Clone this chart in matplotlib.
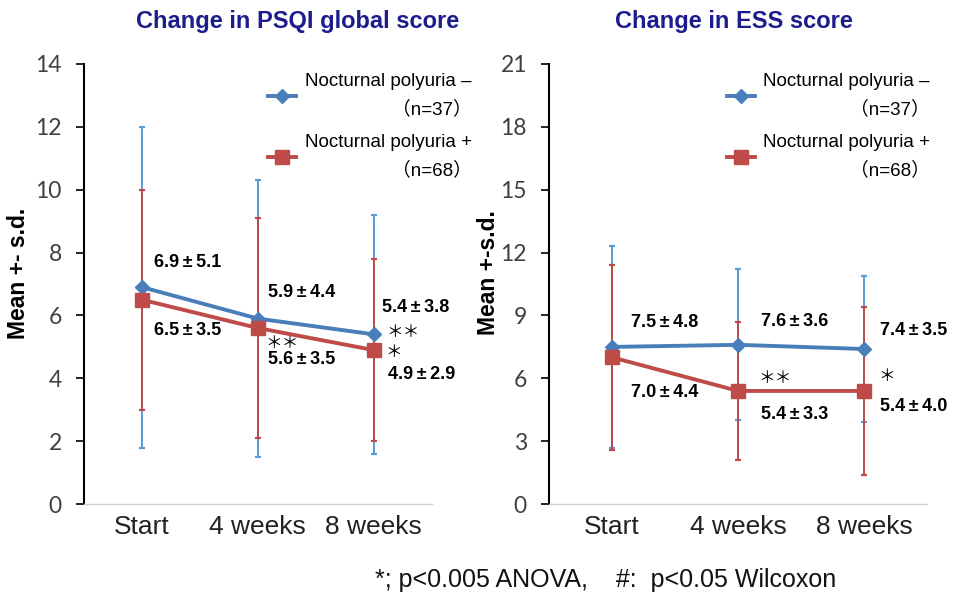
import numpy as np
import matplotlib.pyplot as plt

plt.rcParams['font.family'] = ['Liberation Sans', 'Noto Sans CJK JP', 'DejaVu Sans']

categories = ["Start", "4 weeks", "8 weeks"]
series_labels = ["Nocturnal polyuria –\n（n=37）", "Nocturnal polyuria +\n（n=68）"]

# PSQI global score
psqi_neg_mean = [6.9, 5.9, 5.4]
psqi_neg_sd = [5.1, 4.4, 3.8]
psqi_pos_mean = [6.5, 5.6, 4.9]
psqi_pos_sd = [3.5, 3.5, 2.9]
psqi_neg_sig = ["", "", "＊＊"]
psqi_pos_sig = ["", "＊＊", "＊"]

# ESS score
ess_neg_mean = [7.5, 7.6, 7.4]
ess_neg_sd = [4.8, 3.6, 3.5]
ess_pos_mean = [7.0, 5.4, 5.4]
ess_pos_sd = [4.4, 3.3, 4.0]
ess_neg_sig = ["", "", ""]
ess_pos_sig = ["", "＊＊", "＊"]

blue = "#4a7ebb"
blue_err = "#5b9bd5"
red = "#be4b48"
navy = "#1c1c8c"

fig = plt.figure(figsize=(9.55, 5.96), dpi=100)
ax1 = fig.add_axes([0.088, 0.154, 0.364, 0.739])
ax2 = fig.add_axes([0.575, 0.154, 0.396, 0.739])


def draw_panel(ax, neg_m, neg_s, pos_m, pos_s, neg_sig, pos_sig, ymax, ystep,
               title, ylabel, title_x, ylabel_x, offs, leg_x):
    x = np.arange(len(categories))
    ax.errorbar(x, neg_m, yerr=neg_s, fmt="none", ecolor=blue_err, elinewidth=1.4,
                capsize=2, capthick=1.6, zorder=2)
    ax.errorbar(x, pos_m, yerr=pos_s, fmt="none", ecolor=red, elinewidth=1.4,
                capsize=2, capthick=1.6, zorder=2.5)
    ax.plot(x, neg_m, color=blue, lw=2.8, marker="D", ms=7.5, label=series_labels[0], zorder=3)
    ax.plot(x, pos_m, color=red, lw=2.8, marker="s", ms=10.5, label=series_labels[1], zorder=4)

    ax.set_xlim(-0.5, 2.5)
    ax.set_ylim(0, ymax)
    ax.set_yticks(np.arange(0, ymax + 1, ystep))
    ax.set_xticks(x)
    ax.set_xticklabels(categories, fontsize=19, color="#222222")
    ax.tick_params(axis="x", length=0, pad=8)
    ax.tick_params(axis="y", length=6, width=1.2, direction="out", pad=10, labelsize=16.5,
                   labelcolor="#404040")
    for t in ax.get_yticklabels():
        t.set_fontfamily("Lato")
    for s in ["top", "right"]:
        ax.spines[s].set_visible(False)
    ax.spines["left"].set_linewidth(1.5)
    ax.spines["bottom"].set_color("#d0d0d0")
    ax.spines["bottom"].set_linewidth(1.0)

    ax.text(title_x, 1.095, title, transform=ax.transAxes, ha="center", va="center",
            fontsize=17, fontweight="bold", color=navy)
    ax.set_ylabel(ylabel, fontsize=16.5, fontweight="bold")
    ax.yaxis.set_label_coords(ylabel_x, 0.525)

    # value labels and significance marks
    for i in range(len(categories)):
        ax.annotate(f"{neg_m[i]:.1f}\u2009±\u2009{neg_s[i]:.1f}", (x[i], neg_m[i]),
                    xytext=offs["neg"][i], textcoords="offset pixels", ha="left",
                    va="center", fontsize=13, fontweight="bold")
        ax.annotate(f"{pos_m[i]:.1f}\u2009±\u2009{pos_s[i]:.1f}", (x[i], pos_m[i]),
                    xytext=offs["pos"][i], textcoords="offset pixels", ha="left",
                    va="center", fontsize=13, fontweight="bold")
        if neg_sig[i]:
            ax.annotate(neg_sig[i], (x[i], neg_m[i]), xytext=offs["neg_sig"][i],
                        textcoords="offset pixels", ha="left", va="center", fontsize=12)
        if pos_sig[i]:
            ax.annotate(pos_sig[i], (x[i], pos_m[i]), xytext=offs["pos_sig"][i],
                        textcoords="offset pixels", ha="left", va="center", fontsize=12)

    leg = ax.legend(loc="upper left", bbox_to_anchor=(leg_x, 1.0), frameon=False,
                    fontsize=13.5, borderpad=0, handlelength=1.5, handletextpad=0.45,
                    labelspacing=0.85)
    for t in leg.get_texts():
        t.set_multialignment("right")
        t.set_linespacing(1.75)
    for h in leg.get_lines():
        h.set_linewidth(2.8)


psqi_offs = {
    "neg": [(12, 25), (10, 26), (8, 27)],
    "pos": [(12, -31), (10, -31), (14, -24)],
    "neg_sig": [None, None, (13, 2)],
    "pos_sig": [None, (8, -15), (12, -2)],
}
ess_offs = {
    "neg": [(19, 24), (23, 23), (16, 19)],
    "pos": [(19, -35), (23, -24), (16, -16)],
    "neg_sig": [None, None, None],
    "pos_sig": [None, (20, 12), (14, 14)],
}

draw_panel(ax1, psqi_neg_mean, psqi_neg_sd, psqi_pos_mean, psqi_pos_sd, psqi_neg_sig,
           psqi_pos_sig, 14, 2, "Change in PSQI global score", "Mean +- s.d.", 0.615,
           -0.155, psqi_offs, 0.503)
draw_panel(ax2, ess_neg_mean, ess_neg_sd, ess_pos_mean, ess_pos_sd, ess_neg_sig,
           ess_pos_sig, 21, 3, "Change in ESS score", "Mean +-s.d.", 0.49,
           -0.13, ess_offs, 0.445)

fig.text(0.393, 0.027, "*; p<0.005 ANOVA,    #:  p<0.05 Wilcoxon", fontsize=18,
         ha="left", va="center", color="#111111")

fig.savefig("out.png", dpi=100)
